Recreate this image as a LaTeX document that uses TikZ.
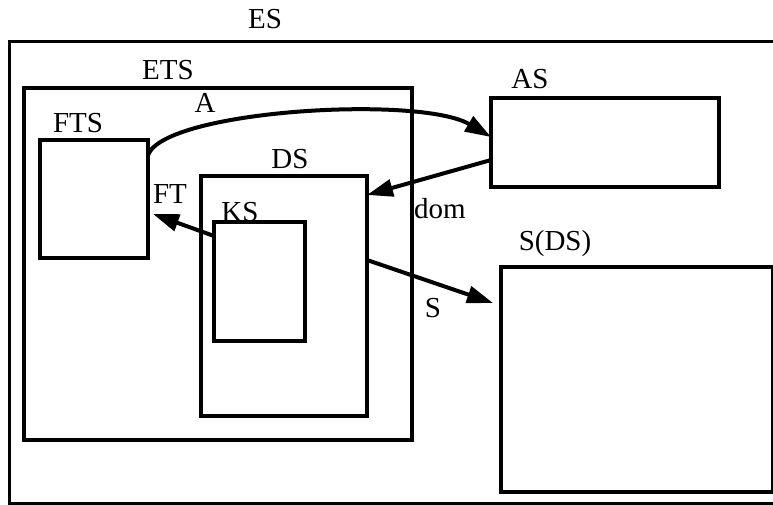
\documentclass[tikz,border=0pt]{standalone}
\usepackage{fontspec}
\setmainfont{Liberation Serif}
\usetikzlibrary{arrows.meta}
\begin{document}
\begin{tikzpicture}[x=1pt,y=-1pt,
  box/.style={draw=black, line width=3.5pt, anchor=north west, inner sep=0pt, outer sep=0pt},
  lbl/.style={font=\fontsize{29}{31}\selectfont, inner sep=0pt},
  conn/.style={line width=4pt, -{Triangle[length=26pt,width=17pt]}}]
\useasboundingbox (0,0) rectangle (773,505);
\begin{scope}
\clip (0,0) rectangle (773,505);
\node[box, line width=3pt, minimum width=800pt, minimum height=461pt] (es) at (9,42) {};
\end{scope}
\node[box, minimum width=388pt, minimum height=352pt] (ets) at (24,88) {};
\node[box, minimum width=108pt, minimum height=118pt] (fts) at (40,140) {};
\node[box, minimum width=228pt, minimum height=89pt] (as) at (491,98) {};
\node[box, minimum width=166pt, minimum height=240pt] (ds) at (201,176) {};
\node[box, minimum width=91pt, minimum height=119pt] (ks) at (214,222) {};
\node[box, minimum width=272pt, minimum height=225pt] (sds) at (501,267) {};

\node[lbl] (lES) at (265,19) {ES};
\node[lbl] (lETS) at (168,70) {ETS};
\node[lbl] (lFTS) at (78,123) {FTS};
\node[lbl] (lA) at (205,103) {A};
\node[lbl] (lAS) at (530,79) {AS};
\node[lbl] (lDS) at (290,159) {DS};
\node[lbl] (lFT) at (170,194) {FT};
\node[lbl] (lKS) at (240,212) {KS};
\node[lbl] (ldom) at (440,209) {dom};
\node[lbl] (lSDS) at (555,244) {S(DS)};
\node[lbl] (lS) at (433,308) {S};

\draw[conn] ([yshift=-15pt]fts.north east) .. controls (165,110) and (420,95) .. ([yshift=-39pt]as.north west);
\draw[conn] ([yshift=-62pt]as.north west) -- ([yshift=-19pt]ds.north east);
\draw[conn] ([yshift=-14pt]ks.north west) -- ([xshift=5pt,yshift=-74pt]fts.north east);
\draw[conn] ([yshift=-84pt]ds.north east) -- ([xshift=-8pt,yshift=-36pt]sds.north west);
\end{tikzpicture}
\end{document}
